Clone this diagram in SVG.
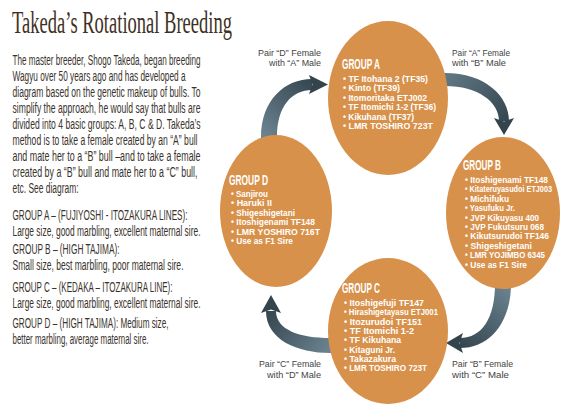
<svg xmlns="http://www.w3.org/2000/svg" width="580" height="416" viewBox="0 0 580 416">
<defs>
<style>
.title{font-family:"Liberation Serif",serif;font-size:32px;fill:#3f3024}
.body{font-family:"Liberation Sans",sans-serif;font-size:14px;fill:#3a332c}
.node{fill:#D8914B}
.head{font-family:"Liberation Sans",sans-serif;font-size:15px;font-weight:bold;fill:#fff}
.item{font-family:"Liberation Sans",sans-serif;font-size:8.3px;font-weight:bold;fill:#fff}
.pair{font-family:"Liberation Sans",sans-serif;font-size:8.9px;fill:#444}
.ah{fill:#33444d}
</style>
<linearGradient id="gDA" gradientUnits="userSpaceOnUse" x1="269" y1="140" x2="318" y2="84"><stop offset="0" stop-color="#6b8391"/><stop offset="1" stop-color="#34454e"/></linearGradient>
<linearGradient id="gAB" gradientUnits="userSpaceOnUse" x1="445" y1="79" x2="504" y2="128"><stop offset="0" stop-color="#5f7784"/><stop offset="1" stop-color="#34454e"/></linearGradient>
<linearGradient id="gBC" gradientUnits="userSpaceOnUse" x1="503" y1="282" x2="455" y2="343"><stop offset="0" stop-color="#6b8391"/><stop offset="1" stop-color="#34454e"/></linearGradient>
<linearGradient id="gCD" gradientUnits="userSpaceOnUse" x1="333" y1="345" x2="271" y2="303"><stop offset="0" stop-color="#6b8391"/><stop offset="1" stop-color="#34454e"/></linearGradient>
</defs>
<rect width="580" height="416" fill="#fff"/>

<text class="title" x="12" y="33" textLength="220" lengthAdjust="spacingAndGlyphs">Takeda’s Rotational Breeding</text>

<g id="intro">
<text class="body" x="12.5" y="65" textLength="188" lengthAdjust="spacingAndGlyphs">The master breeder, Shogo Takeda, began breeding</text>
<text class="body" x="12.5" y="81" textLength="173" lengthAdjust="spacingAndGlyphs">Wagyu over 50 years ago and has developed a</text>
<text class="body" x="12.5" y="97" textLength="188" lengthAdjust="spacingAndGlyphs">diagram based on the genetic makeup of bulls. To</text>
<text class="body" x="12.5" y="113" textLength="188" lengthAdjust="spacingAndGlyphs">simplify the approach, he would say that bulls are</text>
<text class="body" x="12.5" y="129" textLength="188" lengthAdjust="spacingAndGlyphs">divided into 4 basic groups: A, B, C &amp; D. Takeda’s</text>
<text class="body" x="12.5" y="145" textLength="185" lengthAdjust="spacingAndGlyphs">method is to take a female created by an “A” bull</text>
<text class="body" x="12.5" y="161" textLength="188" lengthAdjust="spacingAndGlyphs">and mate her to a “B” bull –and to take a female</text>
<text class="body" x="12.5" y="177" textLength="185" lengthAdjust="spacingAndGlyphs">created by a “B” bull and mate her to a “C” bull,</text>
<text class="body" x="12.5" y="193" textLength="66" lengthAdjust="spacingAndGlyphs">etc. See diagram:</text>
</g>
<g id="legend">
<text class="body" x="12.5" y="220" textLength="175" lengthAdjust="spacingAndGlyphs">GROUP A – (FUJIYOSHI - ITOZAKURA LINES):</text>
<text class="body" x="12.5" y="236" textLength="188" lengthAdjust="spacingAndGlyphs">Large size, good marbling, excellent maternal sire.</text>
<text class="body" x="12.5" y="254" textLength="107" lengthAdjust="spacingAndGlyphs">GROUP B – (HIGH TAJIMA):</text>
<text class="body" x="12.5" y="270" textLength="171" lengthAdjust="spacingAndGlyphs">Small size, best marbling, poor maternal sire.</text>
<text class="body" x="12.5" y="292" textLength="160" lengthAdjust="spacingAndGlyphs">GROUP C – (KEDAKA – ITOZAKURA LINE):</text>
<text class="body" x="12.5" y="308" textLength="188" lengthAdjust="spacingAndGlyphs">Large size, good marbling, excellent maternal sire.</text>
<text class="body" x="12.5" y="328" textLength="156" lengthAdjust="spacingAndGlyphs">GROUP D – (HIGH TAJIMA): Medium size,</text>
<text class="body" x="12.5" y="344" textLength="136" lengthAdjust="spacingAndGlyphs">better marbling, average maternal sire.</text>
</g>

<g id="connectors">
<g id="edge-d-a">
<path d="M261,146 L261,137 C261,100 285,79 312,79 L312,90 C292,90 277,106 277,137 L277,146 Z" fill="url(#gDA)"/>
<polygon class="ah" points="309,75 328,84.5 309,94 312.5,84.5"/>
<text class="pair" x="321" y="56" text-anchor="end" textLength="63" lengthAdjust="spacingAndGlyphs">Pair “D” Female</text>
<text class="pair" x="321" y="66" text-anchor="end" textLength="52" lengthAdjust="spacingAndGlyphs">with “A” Male</text>
</g>
<g id="edge-a-b">
<path d="M438,73 L445,73 C485,73 509,96 509,121 L499,121 C499,102 478,86 445,86 L438,86 Z" fill="url(#gAB)"/>
<polygon class="ah" points="494,118 504,135 514,118 504,121.5"/>
<text class="pair" x="452" y="56" textLength="58" lengthAdjust="spacingAndGlyphs">Pair “A” Female</text>
<text class="pair" x="452" y="66" textLength="54" lengthAdjust="spacingAndGlyphs">with “B” Male</text>
</g>
<g id="edge-b-c">
<path d="M511,278 L511,284 C511,322 490,348 460,348 L460,338 C482,338 495,318 495,284 L495,278 Z" fill="url(#gBC)"/>
<polygon class="ah" points="463,333 446,343 463,353 459.5,343"/>
<text class="pair" x="452" y="367" textLength="61" lengthAdjust="spacingAndGlyphs">Pair “B” Female</text>
<text class="pair" x="452" y="378" textLength="57" lengthAdjust="spacingAndGlyphs">with “C” Male</text>
</g>
<g id="edge-c-d">
<path d="M336,353 L330,353 C298,353 266,340 266,311 L276,311 C276,330 300,338 330,338 L336,338 Z" fill="url(#gCD)"/>
<polygon class="ah" points="261,313 271,295 281,313 271,309.5"/>
<text class="pair" x="321" y="367" text-anchor="end" textLength="62" lengthAdjust="spacingAndGlyphs">Pair “C” Female</text>
<text class="pair" x="321" y="378" text-anchor="end" textLength="54" lengthAdjust="spacingAndGlyphs">with “D” Male</text>
</g>
</g>

<g id="group-a">
<ellipse class="node" cx="388" cy="98" rx="60" ry="77"/>
<text class="head" x="342" y="69" textLength="38" lengthAdjust="spacingAndGlyphs">GROUP A</text>
<text class="item" x="343" y="82" textLength="85" lengthAdjust="spacingAndGlyphs">• TF Itohana 2 (TF35)</text>
<text class="item" x="343" y="91.4" textLength="57" lengthAdjust="spacingAndGlyphs">• Kinto (TF39)</text>
<text class="item" x="343" y="100.8" textLength="84" lengthAdjust="spacingAndGlyphs">• Itomoritaka ETJ002</text>
<text class="item" x="343" y="110.2" textLength="93" lengthAdjust="spacingAndGlyphs">• TF Itomichi 1-2 (TF36)</text>
<text class="item" x="343" y="119.6" textLength="71" lengthAdjust="spacingAndGlyphs">• Kikuhana (TF37)</text>
<text class="item" x="343" y="129" textLength="90" lengthAdjust="spacingAndGlyphs">• LMR TOSHIRO 723T</text>
</g>

<g id="group-b">
<ellipse class="node" cx="503" cy="213" rx="57" ry="76"/>
<text class="head" x="463" y="170" textLength="38" lengthAdjust="spacingAndGlyphs">GROUP B</text>
<text class="item" x="465" y="183" textLength="83" lengthAdjust="spacingAndGlyphs">• Itoshigenami TF148</text>
<text class="item" x="465" y="192.4" textLength="87" lengthAdjust="spacingAndGlyphs">• Kitateruyasudoi ETJ003</text>
<text class="item" x="465" y="201.8" textLength="44" lengthAdjust="spacingAndGlyphs">• Michifuku</text>
<text class="item" x="465" y="211.2" textLength="50" lengthAdjust="spacingAndGlyphs">• Yasufuku Jr.</text>
<text class="item" x="465" y="220.6" textLength="74" lengthAdjust="spacingAndGlyphs">• JVP Kikuyasu 400</text>
<text class="item" x="465" y="230" textLength="79" lengthAdjust="spacingAndGlyphs">• JVP Fukutsuru 068</text>
<text class="item" x="465" y="239.4" textLength="84" lengthAdjust="spacingAndGlyphs">• Kikutsurudoi TF146</text>
<text class="item" x="465" y="248.8" textLength="67" lengthAdjust="spacingAndGlyphs">• Shigeshigetani</text>
<text class="item" x="465" y="258.2" textLength="80" lengthAdjust="spacingAndGlyphs">• LMR YOJIMBO 6345</text>
<text class="item" x="465" y="267.6" textLength="62" lengthAdjust="spacingAndGlyphs">• Use as F1 Sire</text>
</g>

<g id="group-c">
<ellipse class="node" cx="388" cy="331" rx="60" ry="73"/>
<text class="head" x="342" y="293" textLength="38" lengthAdjust="spacingAndGlyphs">GROUP C</text>
<text class="item" x="344" y="306" textLength="80" lengthAdjust="spacingAndGlyphs">• Itoshigefuji TF147</text>
<text class="item" x="344" y="315.3" textLength="94" lengthAdjust="spacingAndGlyphs">• Hirashigetayasu ETJ001</text>
<text class="item" x="344" y="324.6" textLength="78" lengthAdjust="spacingAndGlyphs">• Itozurudoi TF151</text>
<text class="item" x="344" y="333.9" textLength="70" lengthAdjust="spacingAndGlyphs">• TF Itomichi 1-2</text>
<text class="item" x="344" y="343.2" textLength="57" lengthAdjust="spacingAndGlyphs">• TF Kikuhana</text>
<text class="item" x="344" y="352.5" textLength="51" lengthAdjust="spacingAndGlyphs">• Kitaguni Jr.</text>
<text class="item" x="344" y="361.8" textLength="52" lengthAdjust="spacingAndGlyphs">• Takazakura</text>
<text class="item" x="344" y="371.1" textLength="83" lengthAdjust="spacingAndGlyphs">• LMR TOSHIRO 723T</text>
</g>

<g id="group-d">
<ellipse class="node" cx="276" cy="211" rx="56" ry="76"/>
<text class="head" x="229" y="185" textLength="39" lengthAdjust="spacingAndGlyphs">GROUP D</text>
<text class="item" x="231" y="197" textLength="37" lengthAdjust="spacingAndGlyphs">• Sanjirou</text>
<text class="item" x="231" y="206.4" textLength="41" lengthAdjust="spacingAndGlyphs">• Haruki II</text>
<text class="item" x="231" y="215.8" textLength="64" lengthAdjust="spacingAndGlyphs">• Shigeshigetani</text>
<text class="item" x="231" y="225.2" textLength="84" lengthAdjust="spacingAndGlyphs">• Itoshigenami TF148</text>
<text class="item" x="231" y="234.6" textLength="89" lengthAdjust="spacingAndGlyphs">• LMR YOSHIRO 716T</text>
<text class="item" x="231" y="244" textLength="62" lengthAdjust="spacingAndGlyphs">• Use as F1 Sire</text>
</g>
</svg>
